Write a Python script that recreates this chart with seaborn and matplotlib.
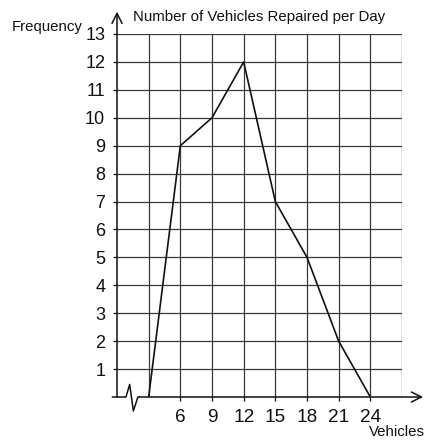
import matplotlib
matplotlib.use("Agg")
import matplotlib.pyplot as plt
import seaborn as sns
import pandas as pd

# Frequency polygon: vehicles repaired per day
vehicles = [3, 6, 9, 12, 15, 18, 21, 24]
frequency = [0, 9, 10, 12, 7, 5, 2, 0]
x_tick_values = [6, 9, 12, 15, 18, 21, 24]
y_tick_values = list(range(1, 14))

sns.set_style("white")
plt.rcParams["font.family"] = ["Liberation Sans", "DejaVu Sans"]

df = pd.DataFrame({"Vehicles": vehicles, "Frequency": frequency})

fig = plt.figure(figsize=(4.25, 4.41), dpi=100)
ax = fig.add_axes([117 / 425, 44 / 441, 285 / 425, 363 / 441])

ax.set_xlim(0, 27)
ax.set_ylim(0, 13)

# grid of squares
grid_kw = dict(color="#3a3a3a", lw=0.9, zorder=1)
for gx in range(3, 28, 3):
    ax.plot([gx, gx], [0, 13], **grid_kw)
for gy in range(1, 14):
    ax.plot([0, 27], [gy, gy], **grid_kw)

sns.lineplot(data=df, x="Vehicles", y="Frequency", ax=ax, color="#111111",
             lw=1.2, zorder=3, legend=False)

for s in ax.spines.values():
    s.set_visible(False)

ax.set_xticks(x_tick_values)
ax.set_xticklabels([str(v) for v in x_tick_values], fontsize=13.7)
ax.set_yticks(y_tick_values)
ax.set_yticklabels([str(v) for v in y_tick_values], fontsize=13)
ax.tick_params(axis="x", length=3, width=0.9, pad=6, colors="#111111",
               bottom=True)
ax.tick_params(axis="y", length=3, width=0.9, pad=5.5, colors="#111111",
               left=True)
ax.set_xlabel("")
ax.set_ylabel("")

# axes with arrow heads
arrow_kw = dict(arrowstyle="->", color="#111111", lw=1.1,
                mutation_scale=18, shrinkA=0, shrinkB=0)
ax.annotate("", xy=(0, 13.8), xytext=(0, 0), arrowprops=arrow_kw,
            annotation_clip=False)
# x axis with a broken-scale zigzag near the origin
ax.plot([-0.45, 0.85, 1.2, 1.55, 1.98, 2.1], [0, 0, 0.45, -0.5, 0, 0],
        color="#111111", lw=1.1, clip_on=False, zorder=4)
ax.annotate("", xy=(29.0, 0), xytext=(2.1, 0), arrowprops=arrow_kw,
            annotation_clip=False)

fig.text(133 / 425, 1 - 17 / 441, "Number of Vehicles Repaired per Day",
         fontsize=10.8, ha="left", va="center", color="#111111")
fig.text(12 / 425, 1 - 27 / 441, "Frequency", fontsize=10.8,
         ha="left", va="center", color="#111111")
fig.text(425 / 425, 1 - 432 / 441, "Vehicles", fontsize=10.8,
         ha="right", va="center", color="#111111")

fig.savefig("out.png", dpi=100)
